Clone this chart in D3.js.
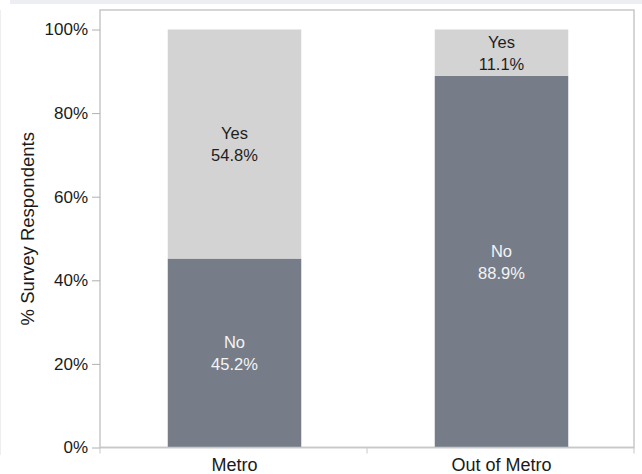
<!DOCTYPE html>
<html><head><meta charset="utf-8">
<script src="https://cdn.jsdelivr.net/npm/d3@7"></script>
<style>body{margin:0;background:#fff;}svg{display:block;font-family:"Liberation Sans",Arial,sans-serif;}</style>
</head><body>
<svg id="c" width="642" height="474"></svg>
<script>
const categories = ["Metro", "Out of Metro"];
const noValues = [45.2, 88.9];
const yesValues = [54.8, 11.1];
const yTicks = [0, 20, 40, 60, 80, 100];
const yTitle = "% Survey Respondents";

(function () {
const svg = d3.select("#c");
const pLeft = 100, pRight = 634, pTop = 10, pBottom = 447.5;
const x = d3.scaleBand().domain(categories).range([pLeft, pRight]).paddingInner(0).paddingOuter(0);
const y = d3.scaleLinear().domain([0, 100]).range([pBottom, 29.5]);

// top strip and faint left border
svg.append("rect").attr("x", 10).attr("y", 0).attr("width", 632).attr("height", 4).attr("fill", "#eceef2");
svg.append("line").attr("x1", 0.5).attr("x2", 0.5).attr("y1", 10).attr("y2", 455).attr("stroke", "#eeeeee");

// frame
svg.append("rect").attr("x", pLeft).attr("y", pTop).attr("width", pRight - pLeft).attr("height", pBottom - pTop)
  .attr("fill", "none").attr("stroke", "#c8c8c8").attr("stroke-width", 1.5);

const bw = x.bandwidth() * 0.5;
const data = categories.map((c, i) => ({c, no: noValues[i], yes: yesValues[i]}));

const g = svg.append("g");
data.forEach(d => {
  const cx = x(d.c) + x.bandwidth() / 2 + 1;
  g.append("rect").attr("x", cx - bw / 2).attr("width", bw)
    .attr("y", y(d.no)).attr("height", y(0) - y(d.no)).attr("fill", "#767d89");
  g.append("rect").attr("x", cx - bw / 2).attr("width", bw)
    .attr("y", y(100)).attr("height", y(d.no) - y(100)).attr("fill", "#d3d3d3");
  const mNo = (y(0) + y(d.no)) / 2;
  const mYes = (y(d.no) + y(100)) / 2;
  [["No", mNo - 11, "#f4f4f4"], [d.no.toFixed(1) + "%", mNo + 11, "#f4f4f4"],
   ["Yes", mYes - 11, "#1e1e1e"], [d.yes.toFixed(1) + "%", mYes + 11, "#1e1e1e"]].forEach(t => {
    g.append("text").attr("x", cx).attr("y", t[1]).attr("text-anchor", "middle")
      .attr("dominant-baseline", "central").attr("font-size", 16.5).attr("fill", t[2]).text(t[0]);
  });
});

// y axis
const ya = svg.append("g").attr("transform", `translate(${pLeft},0)`)
  .call(d3.axisLeft(y).tickValues(yTicks).tickFormat(d => d + "%").tickSize(8).tickPadding(4));
ya.select(".domain").remove();
ya.selectAll(".tick line").attr("stroke", "#b0b0b0");
ya.selectAll(".tick text").attr("font-size", 17).attr("fill", "#1a1a1a").attr("font-family", "Liberation Sans, Arial, sans-serif");

// x axis
const xa = svg.append("g").attr("transform", `translate(0,${pBottom})`);
xa.append("line").attr("x1", pLeft).attr("x2", pRight).attr("y1", 0).attr("y2", 0).attr("stroke", "#c8c8c8").attr("stroke-width", 1.5);
const tickXs = [pLeft].concat(categories.map(c => x(c) + x.bandwidth()));
tickXs.forEach(tx => xa.append("line").attr("x1", tx).attr("x2", tx).attr("y1", 0).attr("y2", 6).attr("stroke", "#c8c8c8"));
categories.forEach(c => {
  xa.append("text").attr("x", x(c) + x.bandwidth() / 2 + 1).attr("y", 23).attr("text-anchor", "middle")
    .attr("font-size", 18).attr("fill", "#1a1a1a").text(c);
});

// y title
svg.append("text").attr("transform", `translate(34,${(pBottom + pTop) / 2}) rotate(-90)`)
  .attr("text-anchor", "middle").attr("font-size", 18.5).attr("fill", "#1a1a1a").text(yTitle);
})();
</script>
</body></html>
